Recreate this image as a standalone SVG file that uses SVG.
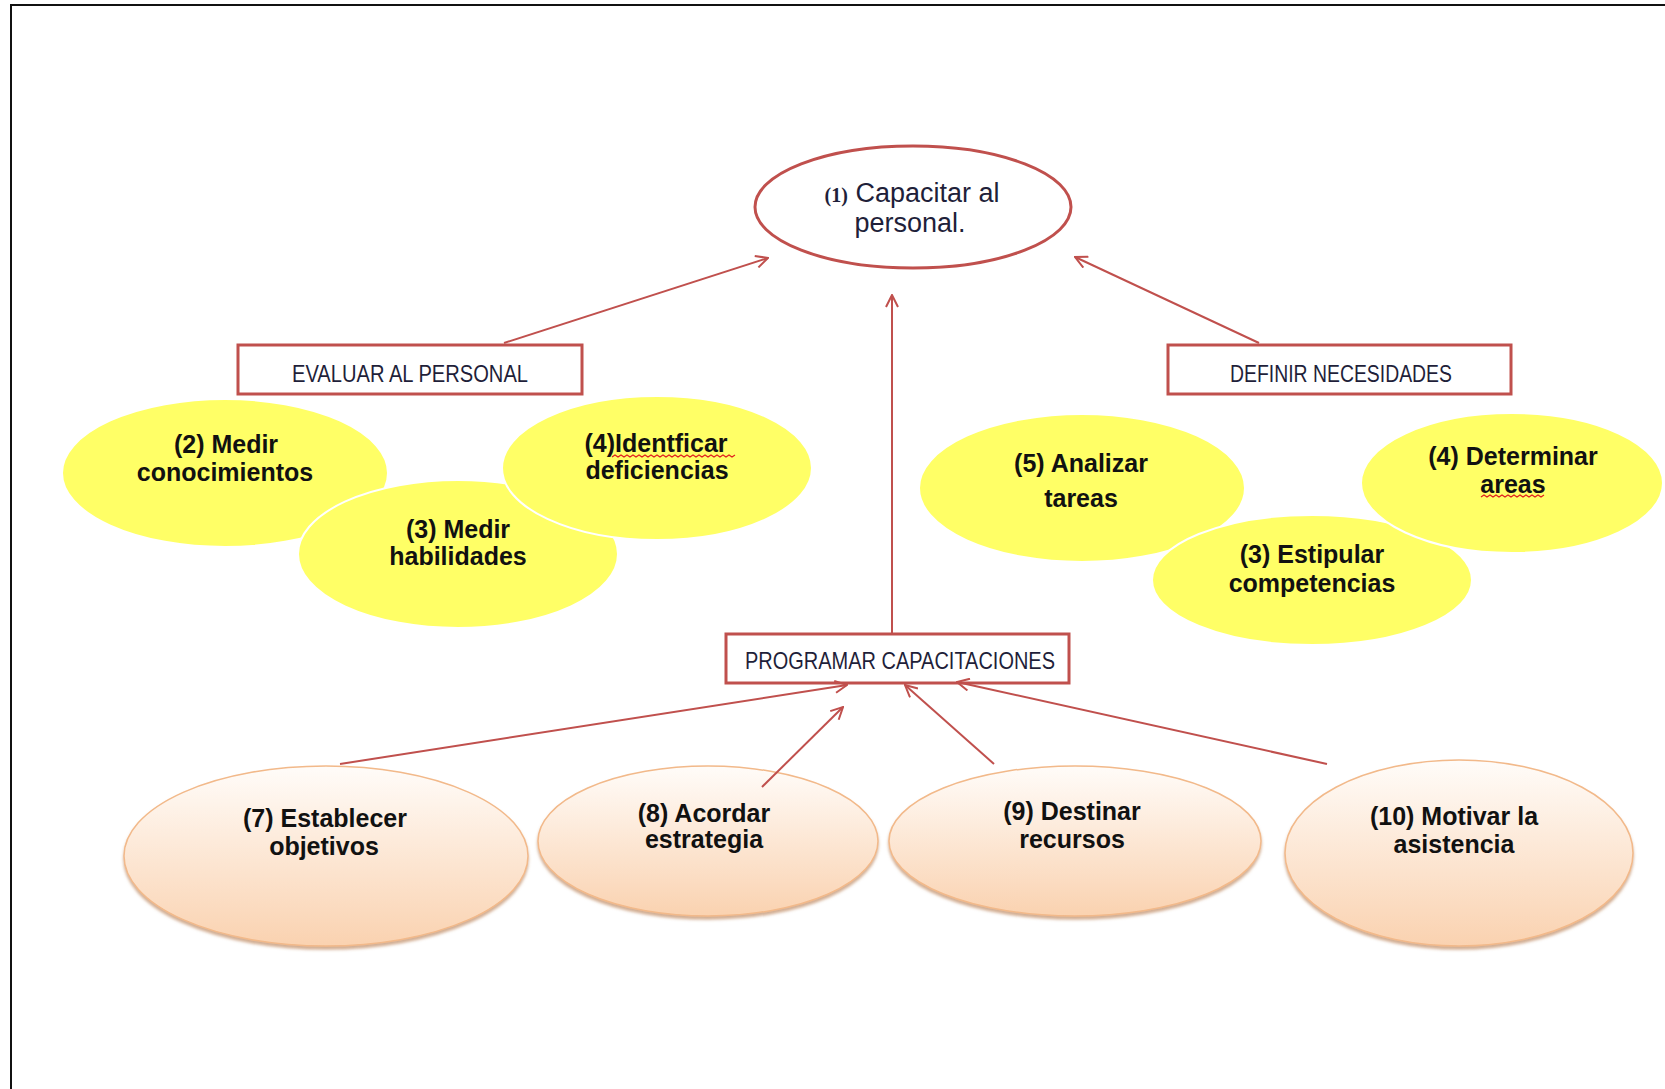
<svg xmlns="http://www.w3.org/2000/svg" width="1665" height="1089" viewBox="0 0 1665 1089">
<style>
.frame{fill:none;stroke:#111;stroke-width:2}
.box{fill:#fff;stroke:#c0504d;stroke-width:3}
.oval{fill:#fff;stroke:#c0504d;stroke-width:3}
.yel{fill:#ffff66;stroke:#fff;stroke-width:2}
.peach{fill:url(#pg);stroke:#f2b98a;stroke-width:1.5;filter:url(#sh)}
.conn{fill:none;stroke:#c0504d;stroke-width:2;marker-end:url(#arr)}
.bt{font-family:"Liberation Sans",Arial,sans-serif;font-size:24px;fill:#1f1f3a;text-anchor:middle}
.lt{font-family:"Liberation Sans",Arial,sans-serif;font-weight:bold;font-size:25px;fill:#111;text-anchor:middle}
.tt{font-family:"Liberation Sans",Arial,sans-serif;font-size:27px;fill:#1f1f3a;text-anchor:middle}
.sq{fill:none;stroke:#e02020;stroke-width:1.2}
</style>
<defs>
<linearGradient id="pg" x1="0" y1="0" x2="0" y2="1">
<stop offset="0" stop-color="#fffcf9"/>
<stop offset="1" stop-color="#fad2b0"/>
</linearGradient>
<filter id="sh" x="-10%" y="-10%" width="120%" height="130%">
<feDropShadow dx="0" dy="3" stdDeviation="1.5" flood-color="#b4764a" flood-opacity="0.6"/>
</filter>
<marker id="arr" viewBox="0 0 14 14" refX="13" refY="7" markerWidth="14" markerHeight="14" markerUnits="userSpaceOnUse" orient="auto">
<path d="M1,1 L13,7 L1,13" fill="none" stroke="#c0504d" stroke-width="2"/>
</marker>
</defs>
<rect width="1665" height="1089" fill="#fff"/>
<path class="frame" d="M11,1089 L11,5 L1665,5"/>

<g id="n1">
<ellipse class="oval" cx="913" cy="207" rx="158" ry="61"/>
<text class="tt" x="912" y="202"><tspan font-family="'Liberation Serif',serif" font-weight="bold" font-size="20">(1)</tspan> Capacitar al</text>
<text class="tt" x="910" y="232">personal.</text>
</g>

<g id="evaluar">
<rect class="box" x="238" y="345" width="344" height="49"/>
<text class="bt" x="410" y="382" textLength="236" lengthAdjust="spacingAndGlyphs">EVALUAR AL PERSONAL</text>
</g>

<g id="definir">
<rect class="box" x="1168" y="345" width="343" height="49"/>
<text class="bt" x="1341" y="382" textLength="222" lengthAdjust="spacingAndGlyphs">DEFINIR NECESIDADES</text>
</g>

<g id="programar">
<rect class="box" x="726" y="634" width="343" height="49"/>
<text class="bt" x="900" y="669" textLength="310" lengthAdjust="spacingAndGlyphs">PROGRAMAR CAPACITACIONES</text>
</g>

<g id="e2">
<ellipse class="yel" cx="225" cy="473" rx="163" ry="74"/>
<text class="lt" x="226" y="453">(2) Medir</text>
<text class="lt" x="225" y="481">conocimientos</text>
</g>
<g id="e3">
<ellipse class="yel" cx="458" cy="554" rx="160" ry="74"/>
<text class="lt" x="458" y="538">(3) Medir</text>
<text class="lt" x="458" y="565">habilidades</text>
</g>
<g id="e4">
<ellipse class="yel" cx="657" cy="468" rx="155" ry="72"/>
<text class="lt" x="656" y="452">(4)Identficar</text>
<text class="lt" x="657" y="479">deficiencias</text>
<path class="sq" d="M612,457 l3,-2 l3,2 l3,-2 l3,2 l3,-2 l3,2 l3,-2 l3,2 l3,-2 l3,2 l3,-2 l3,2 l3,-2 l3,2 l3,-2 l3,2 l3,-2 l3,2 l3,-2 l3,2 l3,-2 l3,2 l3,-2 l3,2 l3,-2 l3,2 l3,-2 l3,2 l3,-2 l3,2 l3,-2 l3,2 l3,-2 l3,2 l3,-2 l3,2 l3,-2 l3,2 l3,-2 l3,2 l3,-2"/>
</g>

<g id="e5">
<ellipse class="yel" cx="1082" cy="488" rx="163" ry="74"/>
<text class="lt" x="1081" y="472">(5) Analizar</text>
<text class="lt" x="1081" y="507">tareas</text>
</g>
<g id="e3b">
<ellipse class="yel" cx="1312" cy="580" rx="160" ry="65"/>
<text class="lt" x="1312" y="563">(3) Estipular</text>
<text class="lt" x="1312" y="592">competencias</text>
</g>
<g id="e4b">
<ellipse class="yel" cx="1512" cy="483" rx="151" ry="70"/>
<text class="lt" x="1513" y="465">(4) Determinar</text>
<text class="lt" x="1513" y="493">areas</text>
<path class="sq" d="M1481,497 l3,-2 l3,2 l3,-2 l3,2 l3,-2 l3,2 l3,-2 l3,2 l3,-2 l3,2 l3,-2 l3,2 l3,-2 l3,2 l3,-2 l3,2 l3,-2 l3,2 l3,-2 l3,2 l3,-2"/>
</g>

<g id="e7">
<ellipse class="peach" cx="326" cy="856" rx="202" ry="90"/>
<text class="lt" x="325" y="827">(7) Establecer</text>
<text class="lt" x="324" y="855">objetivos</text>
</g>
<g id="e8">
<ellipse class="peach" cx="708" cy="841" rx="170" ry="75"/>
<text class="lt" x="704" y="822">(8) Acordar</text>
<text class="lt" x="704" y="848">estrategia</text>
</g>
<g id="e9">
<ellipse class="peach" cx="1075" cy="841" rx="186" ry="75"/>
<text class="lt" x="1072" y="820">(9) Destinar</text>
<text class="lt" x="1072" y="848">recursos</text>
</g>
<g id="e10">
<ellipse class="peach" cx="1459" cy="853" rx="174" ry="93"/>
<text class="lt" x="1454" y="825">(10) Motivar la</text>
<text class="lt" x="1454" y="853">asistencia</text>
</g>

<g id="connectors">
<line class="conn" x1="504" y1="343" x2="768" y2="258"/>
<line class="conn" x1="1259" y1="343" x2="1075" y2="257"/>
<line class="conn" x1="892" y1="633" x2="892" y2="295"/>
<line class="conn" x1="340" y1="764" x2="847" y2="685"/>
<line class="conn" x1="762" y1="787" x2="843" y2="707"/>
<line class="conn" x1="994" y1="764" x2="905" y2="685"/>
<line class="conn" x1="1327" y1="764" x2="957" y2="682"/>
</g>
</svg>
